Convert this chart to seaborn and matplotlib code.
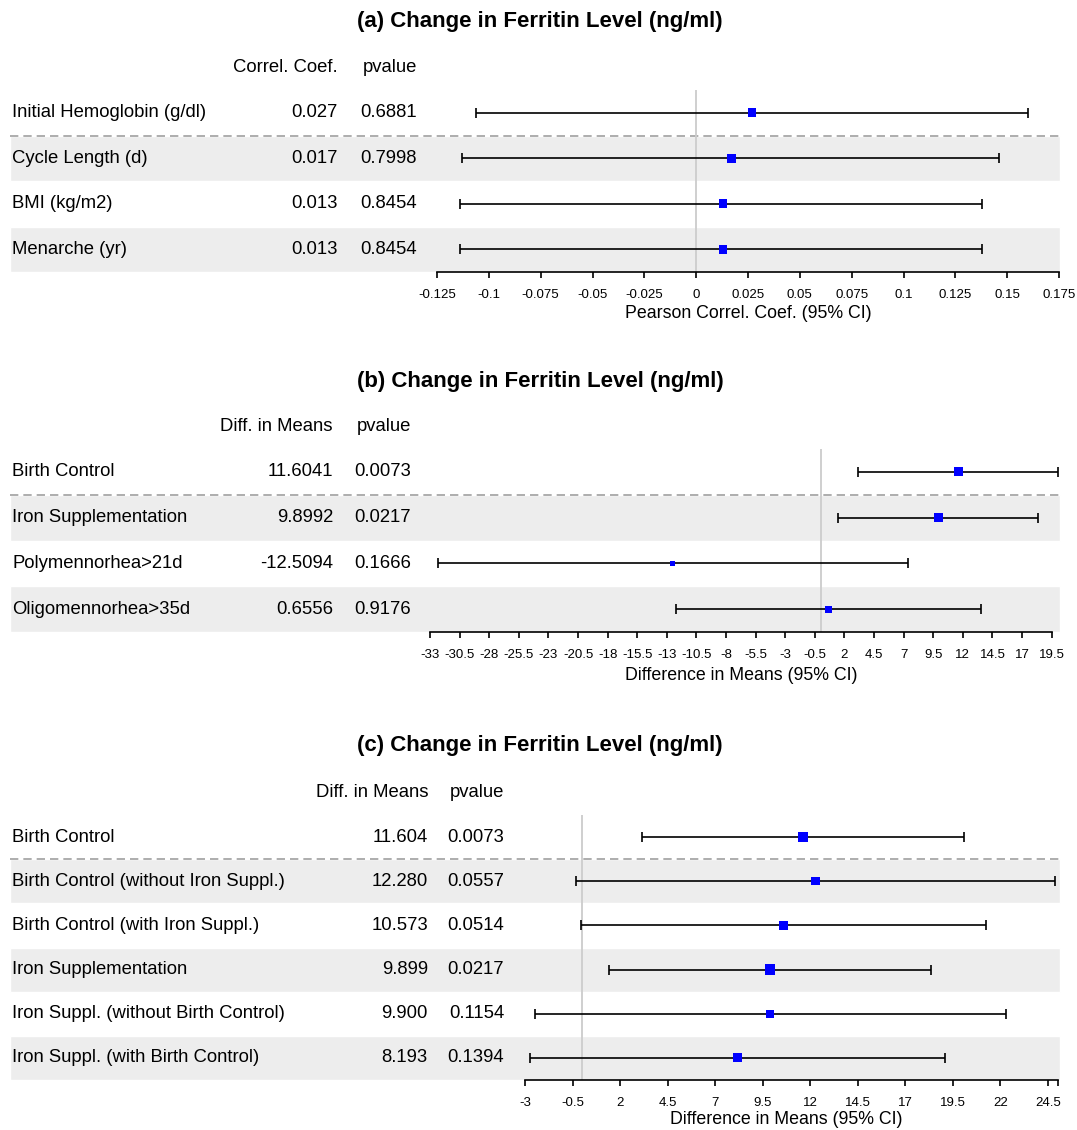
import numpy as np
import matplotlib
matplotlib.use("Agg")
import matplotlib.pyplot as plt
import seaborn as sns

# panel (a): correlations
a_labels = ["Initial Hemoglobin (g/dl)", "Cycle Length (d)", "BMI (kg/m2)", "Menarche (yr)"]
a_est = [0.027, 0.017, 0.013, 0.013]
a_lo = [-0.106, -0.113, -0.114, -0.114]
a_hi = [0.160, 0.146, 0.138, 0.138]
a_coef_txt = ["0.027", "0.017", "0.013", "0.013"]
a_pval_txt = ["0.6881", "0.7998", "0.8454", "0.8454"]
a_ticks = ["-0.125", "-0.1", "-0.075", "-0.05", "-0.025", "0", "0.025", "0.05",
           "0.075", "0.1", "0.125", "0.15", "0.175"]

# panel (b): difference in means
b_labels = ["Birth Control", "Iron Supplementation", "Polymennorhea>21d", "Oligomennorhea>35d"]
b_est = [11.6041, 9.8992, -12.5094, 0.6556]
b_lo = [3.14, 1.46, -32.3, -12.26]
b_hi = [20.06, 18.34, 7.35, 13.57]
b_diff_txt = ["11.6041", "9.8992", "-12.5094", "0.6556"]
b_pval_txt = ["0.0073", "0.0217", "0.1666", "0.9176"]
b_ticks = ["-33", "-30.5", "-28", "-25.5", "-23", "-20.5", "-18", "-15.5", "-13", "-10.5",
           "-8", "-5.5", "-3", "-0.5", "2", "4.5", "7", "9.5", "12", "14.5", "17", "19.5"]

# panel (c): difference in means, subgroups
c_labels = ["Birth Control", "Birth Control (without Iron Suppl.)", "Birth Control (with Iron Suppl.)",
            "Iron Supplementation", "Iron Suppl. (without Birth Control)", "Iron Suppl. (with Birth Control)"]
c_est = [11.604, 12.280, 10.573, 9.899, 9.900, 8.193]
c_lo = [3.15, -0.31, -0.08, 1.44, -2.46, -2.73]
c_hi = [20.1, 24.88, 21.25, 18.38, 22.29, 19.1]
c_diff_txt = ["11.604", "12.280", "10.573", "9.899", "9.900", "8.193"]
c_pval_txt = ["0.0073", "0.0557", "0.0514", "0.0217", "0.1154", "0.1394"]
c_ticks = ["-3", "-0.5", "2", "4.5", "7", "9.5", "12", "14.5", "17", "19.5", "22", "24.5"]

# marker areas (weight boxes)
a_sizes = [38, 38, 38, 38]
b_sizes = [40, 42, 16, 24]
c_sizes = [54, 36, 42, 54, 32, 42]

sns.set_theme(style="white", rc={"text.color": "black", "axes.labelcolor": "black",
                                 "xtick.color": "black", "axes.edgecolor": "black"})
plt.rcParams["font.family"] = ["Liberation Sans", "DejaVu Sans"]

W, H = 1077, 1130
fig = plt.figure(figsize=(W / 100, H / 100), dpi=100)


def px_axes(left, top, right, bottom):
    return fig.add_axes([left / W, 1 - bottom / H, (right - left) / W, (bottom - top) / H])


def panel(title, title_y, labels, est, lo, hi, sizes, head1, col1, col2, x1, x2,
          tick_txt, xlim, px_first, px_last, top, bottom, xlabel, xlabel_y, end_tick=None):
    n = len(labels)
    rows = np.arange(n)
    est = np.array(est)

    fig.text(540 / W, 1 - title_y / H, title, ha="center", va="center",
             fontsize=16, fontweight="bold")

    # background: bands, separator, text table
    bg = px_axes(0, top, W, bottom)
    bg.set_xlim(0, W)
    bg.set_ylim(n - 0.5, -0.5)
    bg.axis("off")
    shaded = rows[1::2]
    bg.barh(shaded, 1050, left=10, height=1, color="#ededed", zorder=0)
    bg.plot([10, 1060], [0.5, 0.5], ls=(0, (5, 3)), color="#a0a0a0", lw=1.2, zorder=1)
    for i in rows:
        bg.text(12, i, labels[i], ha="left", va="center", fontsize=13.3)
        bg.text(x1, i, col1[i], ha="right", va="center", fontsize=13.3)
        bg.text(x2, i, col2[i], ha="right", va="center", fontsize=13.3)
    bg.text(x1, -1, head1, ha="right", va="center", fontsize=13.3)
    bg.text(x2, -1, "pvalue", ha="right", va="center", fontsize=13.3)

    # forest part
    tick_vals = [float(t) for t in tick_txt]
    scale = (px_last - px_first) / (tick_vals[-1] - tick_vals[0])
    left_px = px_first + (xlim[0] - tick_vals[0]) * scale
    right_px = px_first + (xlim[1] - tick_vals[0]) * scale
    ax = px_axes(left_px, top, right_px, bottom)
    ax.patch.set_alpha(0)
    ax.axvline(0, color="#cccccc", lw=1.3, zorder=0)
    ax.errorbar(est, rows, xerr=[est - np.array(lo), np.array(hi) - est], fmt="none",
                ecolor="black", elinewidth=1.2, capsize=3.5, capthick=1.2, zorder=2)
    sns.scatterplot(x=est, y=rows, marker="s", s=sizes, color="#0000ff",
                    linewidth=0, ax=ax, zorder=3, legend=False)
    ax.set_xlim(*xlim)
    ax.set_ylim(n - 0.5, -0.5)
    ax.set_yticks([])
    ax.set_ylabel("")
    for s in ["top", "left", "right"]:
        ax.spines[s].set_visible(False)
    ax.spines["bottom"].set_linewidth(1.2)
    ticks = list(tick_vals)
    labs = list(tick_txt)
    if end_tick is not None:
        ticks.append(end_tick)
        labs.append("")
    ax.spines["bottom"].set_bounds(tick_vals[0], ticks[-1])
    ax.set_xticks(ticks)
    ax.set_xticklabels(labs)
    ax.tick_params(axis="x", direction="out", length=4.5, width=1.2, pad=7.5,
                   labelsize=9.5, bottom=True)
    ax.set_xlabel(xlabel, fontsize=12.8)
    ax.xaxis.label.set_va("center")
    ax.xaxis.set_label_coords(0.5 * (px_first + px_last - 2 * left_px) / (right_px - left_px),
                              -(xlabel_y - bottom) / (bottom - top))


panel("(a) Change in Ferritin Level (ng/ml)", 21, a_labels, a_est, a_lo, a_hi, a_sizes,
      "Correl. Coef.", a_coef_txt, a_pval_txt, 338, 417,
      a_ticks, (-0.125, 0.175), 437, 1059, 90, 272,
      "Pearson Correl. Coef. (95% CI)", 314)

panel("(b) Change in Ferritin Level (ng/ml)", 381, b_labels, b_est, b_lo, b_hi, b_sizes,
      "Diff. in Means", b_diff_txt, b_pval_txt, 333, 411,
      b_ticks, (-33, 20.3), 430, 1051.7, 449, 632,
      "Difference in Means (95% CI)", 675)

panel("(c) Change in Ferritin Level (ng/ml)", 745, c_labels, c_est, c_lo, c_hi, c_sizes,
      "Diff. in Means", c_diff_txt, c_pval_txt, 428, 504,
      c_ticks, (-3, 25.1), 525, 1047.8, 815, 1080,
      "Difference in Means (95% CI)", 1120, end_tick=25.04)

fig.savefig("out.png", dpi=100)
